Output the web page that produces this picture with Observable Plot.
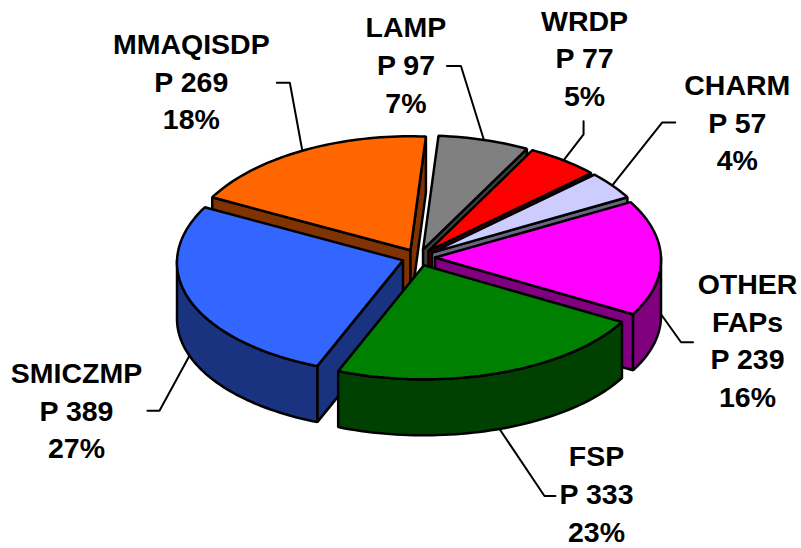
<!DOCTYPE html>
<html>
<head>
<meta charset="utf-8">
<script src="https://cdn.jsdelivr.net/npm/d3@7"></script>
<script src="https://cdn.jsdelivr.net/npm/@observablehq/plot@0.6"></script>
<style>html,body{margin:0;padding:0;background:#fff}svg{display:block}</style>
</head>
<body>
<div id="chart"></div>
<script>
// Data, clockwise from the top of the pie
const names    = ["LAMP", "WRDP", "CHARM", "OTHER\nFAPs", "FSP", "SMICZMP", "MMAQISDP"];
const values   = [97, 77, 57, 239, 333, 389, 269];
const percents = [7, 5, 4, 16, 23, 27, 18];

// Styling
const topColors  = ["#808080", "#FF0000", "#CCCCFF", "#FF00FF", "#008000", "#3366FF", "#FF6600"];
const wallColors = ["#404040", "#800000", "#666680", "#800080", "#004000", "#1A3380", "#803300"];

// Layout: pie projection
const cx = 418, cy = 257, rx = 226, ry = 114, depth = 56, explode = 16.5, startDeg = 4, perspective = 0.02;
// Layout: offsets from each slice's rim midpoint
const labelOffsets = [[-78,-77],[21,-104],[125,-65],[86.5,24],[97,63],[-113,53],[-111,-71]];
const elbowOffsets = [[-23,-74],[20,-26],[50,-63],[20,28],[45,67],[-30,55],[-12.5,-68]];
const endOffsets   = [[-37,-74],[20,-39],[63,-63],[32,28],[56,67],[-42,55],[-25.5,-68]];

const total = d3.sum(values);
const rad = d => d * Math.PI / 180;
let acc = startDeg;
const slices = values.map((v, i) => {
  const a0 = acc, a1 = acc + v / total * 360; acc = a1;
  const mid = (a0 + a1) / 2;
  const ox = cx + explode * Math.sin(rad(mid));
  const oy = cy - explode * 0.5 * Math.cos(rad(mid));
  return {i, a0, a1, mid, ox, oy};
});
const rim = (s, a, dz = 0) => [
  s.ox + rx * Math.sin(rad(a)) * (1 - perspective * Math.cos(rad(a))),
  s.oy - ry * Math.cos(rad(a)) + dz
];
const arc = (s, a0, a1, dz = 0) => {
  const n = Math.max(2, Math.ceil((a1 - a0) / 1.5));
  return d3.range(n + 1).map(k => rim(s, a0 + (a1 - a0) * k / n, dz));
};

// Polygons, painted back to front
const polys = [];
const add = (id, fill, pts) => {
  [...pts, pts[0]].forEach(p => polys.push({id, fill, x: p[0], y: p[1]}));
};
[...slices].sort((a, b) => Math.abs(b.mid - 180) - Math.abs(a.mid - 180)).forEach(s => {
  const wall = wallColors[s.i], top = topColors[s.i], o = [s.ox, s.oy];
  const down = p => [p[0], p[1] + depth];
  // only the radial walls that face the viewer
  if (s.a0 % 360 > 180) {
    const p = rim(s, s.a0);
    add(`${s.i}-r0`, wall, [o, p, down(p), down(o)]);
  }
  if (s.a1 % 360 < 180) {
    const p = rim(s, s.a1);
    add(`${s.i}-r1`, wall, [o, p, down(p), down(o)]);
  }
  const f0 = Math.max(s.a0, 90), f1 = Math.min(s.a1, 270);
  if (f1 > f0) {
    add(`${s.i}-o`, wall, [...arc(s, f0, f1), ...arc(s, f0, f1, depth).reverse()]);
  }
  add(`${s.i}-t`, top, [o, ...arc(s, s.a0, s.a1)]);
});

// Leaders and labels
const anchor = s => {
  const front = s.mid > 90 && s.mid < 270;
  return rim(s, s.mid, front ? depth : 0);
};
const leaders = slices.flatMap(s => {
  const [ax, ay] = anchor(s);
  const pts = [[0, 0], elbowOffsets[s.i], endOffsets[s.i]];
  return pts.map(([dx, dy]) => ({id: s.i, x: ax + dx, y: ay + dy}));
});
const labels = slices.map(s => {
  const [ax, ay] = anchor(s);
  return {
    x: ax + labelOffsets[s.i][0],
    y: ay + labelOffsets[s.i][1],
    text: `${names[s.i]}\nP ${values[s.i]}\n${percents[s.i]}%`
  };
});

const chart = Plot.plot({
  width: 801, height: 548,
  margin: 0,
  style: {background: "#fff"},
  x: {domain: [0, 801], range: [0, 801], axis: null},
  y: {domain: [0, 548], range: [0, 548], axis: null},
  color: {type: "identity"},
  marks: [
    Plot.line(leaders, {x: "x", y: "y", z: "id", stroke: "#000", strokeWidth: 2, strokeLinejoin: "miter"}),
    Plot.line(polys, {x: "x", y: "y", z: "id", fill: "fill", stroke: "#000", strokeWidth: 2.5, strokeLinejoin: "miter"}),
    Plot.text(labels, {
      x: "x", y: "y", text: "text",
      fontFamily: "Liberation Sans", fontWeight: "bold", fontSize: 28.5,
      lineHeight: 1.32, lineAnchor: "middle", fill: "#000"
    })
  ]
});
document.getElementById("chart").appendChild(chart);
</script>
</body>
</html>
